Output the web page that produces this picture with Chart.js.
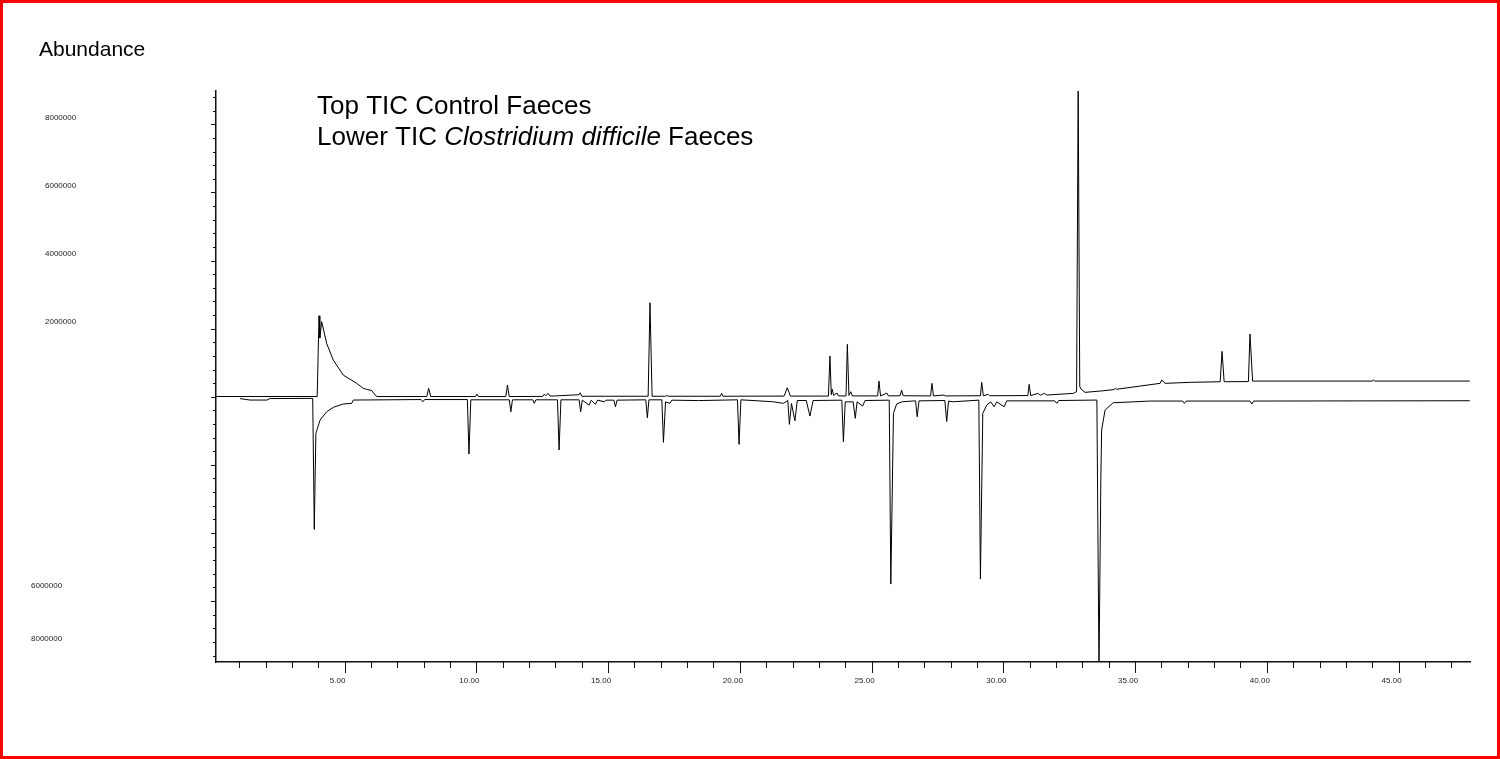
<!DOCTYPE html>
<html>
<head>
<meta charset="utf-8">
<script src="https://cdn.jsdelivr.net/npm/chart.js@4.4.1/dist/chart.umd.min.js"></script>
<style>
  html, body { margin: 0; padding: 0; background: #fff; }
  #wrap { position: relative; width: 1500px; height: 759px; }
  #frame { position: absolute; left: 0; top: 0; width: 1500px; height: 759px; box-sizing: border-box; border: 3px solid #ff0000; pointer-events: none; }
</style>
</head>
<body>
<div id="wrap">
  <canvas id="chart" width="1500" height="759"></canvas>
  <div id="frame"></div>
</div>
<script>
// Top TIC - control faeces (retention time in min, abundance)
const controlTime = [
  0.12, 3.96, 4.03, 4.06, 4.13, 4.32, 4.57, 4.95, 5.46, 5.71, 5.84, 6.03, 6.16, 6.23,
  8.12, 8.19, 8.27, 9.97, 10.02, 10.08, 11.12, 11.18, 11.25,
  12.52, 12.58, 12.64, 12.72, 12.80, 13.00, 13.90, 13.94, 14.00,
  16.52, 16.59, 16.67, 17.18, 17.23, 17.28, 19.26, 19.31, 19.36,
  21.68, 21.80, 21.92, 23.36, 23.42, 23.47, 23.50, 23.56, 23.69, 23.74,
  24.03, 24.08, 24.14, 24.21, 24.27, 25.23, 25.28, 25.34, 25.58, 25.64,
  26.08, 26.14, 26.20, 27.24, 27.29, 27.35, 27.75, 27.80,
  29.13, 29.18, 29.24, 29.43, 29.48, 30.93, 30.98, 31.04, 31.33, 31.40, 31.56, 31.65,
  32.66, 32.78, 32.84, 32.90, 32.95, 33.10, 33.79, 34.20, 34.25, 34.30,
  35.19, 35.95, 36.01, 36.14, 37.09, 38.23, 38.30, 38.38, 39.30, 39.36, 39.46,
  44.00, 44.04, 44.10, 47.70
];
const controlAbundance = [
  8000, 8000, 2379000, 1724000, 2203000, 1568000, 1078000, 637000, 394000, 247000, 217000, 182000, 50000, 6000,
  6000, 247000, 6000, 6000, 79000, 6000, 6000, 344000, 6000,
  10000, 79000, 30000, 100000, 20000, 25000, 60000, 117000, 15000,
  15000, 2761000, 15000, 15000, 41000, 15000, 15000, 100000, 15000,
  20000, 264000, 20000, 20000, 1195000, 60000, 226000, 40000, 109000, 25000,
  25000, 1539000, 40000, 147000, 25000, 25000, 461000, 25000, 109000, 25000,
  30000, 197000, 30000, 25000, 394000, 25000, 50000, 25000,
  30000, 423000, 30000, 70000, 30000, 35000, 364000, 35000, 100000, 45000, 100000, 50000,
  100000, 150000, 9100000, 300000, 226000, 129000, 176000, 211000, 247000, 220000,
  314000, 394000, 490000, 394000, 423000, 441000, 1333000, 441000, 446000, 1841000, 461000,
  461000, 490000, 461000, 461000
];

// Lower TIC - Clostridium difficile faeces (drawn mirrored below zero)
const cdiffTime = [
  1.03, 1.41, 2.05, 2.17, 3.79, 3.85, 3.91, 3.94, 4.07, 4.32, 4.57, 4.95, 5.27, 5.33,
  7.90, 7.97, 8.04, 9.66, 9.72, 9.79, 11.25, 11.31, 11.37, 12.14, 12.20, 12.26,
  13.08, 13.14, 13.21, 13.90, 13.96, 14.02, 14.28, 14.36, 14.52, 14.60, 14.86, 14.92,
  15.22, 15.28, 15.34, 16.43, 16.49, 16.55, 17.04, 17.10, 17.18, 17.35, 17.42, 18.43,
  19.91, 19.97, 20.04, 21.27, 21.65, 21.82, 21.88, 21.96, 22.09, 22.18, 22.52, 22.66, 22.78,
  23.87, 23.93, 24.00, 24.30, 24.38, 24.45, 24.66, 24.75,
  25.67, 25.73, 25.83, 25.95, 26.16, 26.67, 26.73, 26.80, 27.78, 27.85, 27.92, 28.10,
  29.07, 29.13, 29.22, 29.37, 29.52, 29.65, 29.75, 30.03, 30.13, 31.95, 32.03, 32.10,
  33.55, 33.63, 33.70, 33.73, 33.86, 34.17, 35.57, 36.80, 36.87, 36.94,
  39.36, 39.43, 39.50, 47.70
];
const cdiffAbundance = [
  53000, 97000, 97000, 53000, 47000, 3894000, 1075000, 999000, 684000, 441000, 311000, 214000, 194000, 97000,
  82000, 147000, 82000, 82000, 1683000, 90000, 90000, 441000, 90000, 90000, 194000, 90000,
  90000, 1565000, 90000, 90000, 441000, 100000, 244000, 100000, 223000, 100000, 147000, 100000,
  100000, 294000, 100000, 90000, 617000, 90000, 90000, 1339000, 150000, 194000, 100000, 112000,
  90000, 1398000, 90000, 147000, 194000, 110000, 811000, 200000, 705000, 110000, 110000, 567000, 110000,
  100000, 1322000, 150000, 150000, 634000, 150000, 273000, 110000,
  100000, 5501000, 488000, 214000, 147000, 120000, 587000, 120000, 110000, 728000, 130000, 147000,
  100000, 5354000, 488000, 244000, 150000, 294000, 150000, 294000, 120000, 120000, 194000, 110000,
  97000, 8000000, 2446000, 978000, 391000, 176000, 126000, 126000, 194000, 126000,
  126000, 214000, 126000, 117000
];

const yUpperLabels = [2000000, 4000000, 6000000, 8000000];
const yLowerLabels = [6000000, 8000000];

const yAxisTitle = 'Abundance';
const legendTop = 'Top TIC Control Faeces';
const legendLower = [
  { text: 'Lower TIC ', italic: false },
  { text: 'Clostridium difficile', italic: true },
  { text: ' Faeces', italic: false }
];

const FONT = '"Liberation Sans", Arial, Helvetica, sans-serif';

// minor tick every minute, labels every 5
const xTicks = [];
for (let i = 1; i <= 47; i++) {
  xTicks.push({ value: i });
}
// minor tick every 400000, labels every 2000000
const yTicks = [];
for (let i = -19; i <= 22; i++) {
  yTicks.push({ value: i * 400000 });
}

const tickMarks = {
  id: 'tickMarks',
  afterDraw(chart) {
    const { ctx, chartArea } = chart;
    const xs = chart.scales.x;
    const ys = chart.scales.y;
    ctx.save();
    ctx.strokeStyle = '#111';
    ctx.lineWidth = 1;
    ctx.beginPath();
    xs.ticks.forEach(t => {
      const px = Math.round(xs.getPixelForValue(t.value)) + 0.5;
      const len = t.value % 5 === 0 ? 11 : 6;
      ctx.moveTo(px, chartArea.bottom);
      ctx.lineTo(px, chartArea.bottom + len);
    });
    ys.ticks.forEach(t => {
      const py = Math.round(ys.getPixelForValue(t.value)) + 0.5;
      const len = t.value % 2000000 === 0 ? 5 : 3;
      ctx.moveTo(chartArea.left - len, py);
      ctx.lineTo(chartArea.left, py);
    });
    ctx.stroke();
    ctx.restore();
  }
};

const captions = {
  id: 'captions',
  afterDraw(chart) {
    const ctx = chart.ctx;
    ctx.save();
    ctx.fillStyle = '#000';
    ctx.textBaseline = 'alphabetic';
    ctx.textAlign = 'left';
    ctx.font = '21px ' + FONT;
    ctx.fillText(yAxisTitle, 39, 56);
    ctx.font = '26px ' + FONT;
    ctx.fillText(legendTop, 317, 114);
    let x = 317;
    legendLower.forEach(part => {
      ctx.font = (part.italic ? 'italic ' : '') + '26px ' + FONT;
      ctx.fillText(part.text, x, 145);
      x += ctx.measureText(part.text).width;
    });
    ctx.restore();
  }
};

const ctx = document.getElementById('chart').getContext('2d');
new Chart(ctx, {
  type: 'line',
  data: {
    datasets: [
      {
        label: 'Control',
        data: controlTime.map((t, i) => ({ x: t, y: controlAbundance[i] })),
        borderColor: '#000',
        borderWidth: 1,
        pointRadius: 0,
        tension: 0,
        fill: false
      },
      {
        label: 'Clostridium difficile',
        data: cdiffTime.map((t, i) => ({ x: t, y: -cdiffAbundance[i] })),
        borderColor: '#000',
        borderWidth: 1,
        pointRadius: 0,
        tension: 0,
        fill: false
      }
    ]
  },
  options: {
    responsive: false,
    animation: false,
    events: [],
    layout: {
      padding: { top: 91, right: 30, bottom: 0, left: 0 }
    },
    plugins: {
      legend: { display: false },
      tooltip: { enabled: false },
      title: { display: false }
    },
    scales: {
      x: {
        type: 'linear',
        position: 'bottom',
        min: 0.12,
        max: 47.71,
        afterBuildTicks: (axis) => {
          axis.ticks = xTicks.map(t => ({ value: t.value }));
        },
        afterFit: (scale) => { scale.height = 97; },
        ticks: {
          autoSkip: false,
          maxRotation: 0,
          padding: 14,
          labelOffset: -7,
          color: '#222',
          font: { family: FONT, size: 8 },
          callback: (value) => (value % 5 === 0 ? value.toFixed(2) : '')
        },
        grid: { display: false, drawOnChartArea: false, drawTicks: false },
        border: { display: true, color: '#111', width: 1.5 }
      },
      y: {
        type: 'linear',
        position: 'left',
        weight: 0,
        min: -7790000,
        max: 8980000,
        afterBuildTicks: (axis) => {
          axis.ticks = yTicks.map(t => ({ value: t.value }));
        },
        afterFit: (scale) => { scale.width = 216; },
        ticks: {
          autoSkip: false,
          mirror: true,
          crossAlign: 'near',
          padding: -171,
          labelOffset: -6.5,
          color: '#222',
          font: { family: FONT, size: 8 },
          callback: (value) => (yUpperLabels.includes(value) ? String(value) : '')
        },
        grid: { display: false, drawOnChartArea: false, drawTicks: false },
        border: { display: true, color: '#111', width: 1.5 }
      },
      yLow: {
        type: 'linear',
        position: 'left',
        display: true,
        weight: 1,
        min: -8870000,
        max: 12680000,
        afterBuildTicks: (axis) => {
          axis.ticks = yLowerLabels.map(v => ({ value: -v }));
        },
        afterFit: (scale) => { scale.width = 0; },
        ticks: {
          autoSkip: false,
          mirror: true,
          crossAlign: 'near',
          padding: 31,
          color: '#222',
          font: { family: FONT, size: 8 },
          callback: (value) => String(Math.abs(value))
        },
        grid: { display: false, drawOnChartArea: false, drawTicks: false },
        border: { display: false }
      }
    }
  },
  plugins: [tickMarks, captions]
});
</script>
</body>
</html>
